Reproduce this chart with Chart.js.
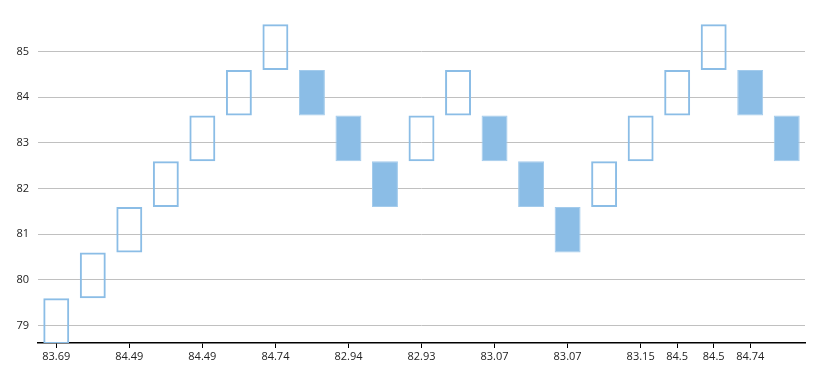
<!DOCTYPE html>
<html>
<head>
<meta charset="utf-8">
<script src="https://cdn.jsdelivr.net/npm/chart.js@4/dist/chart.umd.min.js"></script>
<style>
  html, body { margin: 0; padding: 0; background: #fff; }
  #wrap { width: 828px; height: 374px; position: relative; }
</style>
</head>
<body>
<div id="wrap"><canvas id="chart"></canvas></div>
<script>
// renko bricks: open / close of each brick
const brickOpen  = [78.6, 79.6, 80.6, 81.6, 82.6, 83.6, 84.6, 84.6, 83.6, 82.6, 82.6, 83.6, 83.6, 82.6, 81.6, 81.6, 82.6, 83.6, 84.6, 84.6, 83.6];
const brickClose = [79.6, 80.6, 81.6, 82.6, 83.6, 84.6, 85.6, 83.6, 82.6, 81.6, 83.6, 84.6, 82.6, 81.6, 80.6, 82.6, 83.6, 84.6, 85.6, 83.6, 82.6];
// labels under the axis (blank where no label is shown)
const xLabels = ['83.69', '', '84.49', '', '84.49', '', '84.74', '', '82.94', '', '82.93', '', '83.07', '', '83.07', '', '83.15', '84.5', '84.5', '84.74', ''];
const yTicks = [79, 80, 81, 82, 83, 84, 85];

const blue = '#8bbde6';
const isUp = brickOpen.map((o, i) => brickClose[i] > o);

const ctx = document.getElementById('chart').getContext('2d');
new Chart(ctx, {
  type: 'bar',
  data: {
    labels: xLabels,
    datasets: [{
      data: brickOpen.map((o, i) => [o, brickClose[i]]),
      backgroundColor: isUp.map(u => u ? 'rgba(255,255,255,0)' : blue),
      borderColor: isUp.map(u => u ? blue : '#a3cbec'),
      borderWidth: isUp.map(u => u ? 2 : 1),
      borderSkipped: false,
      categoryPercentage: 1,
      barPercentage: 0.71
    }]
  },
  options: {
    responsive: true,
    maintainAspectRatio: false,
    animation: false,
    layout: { padding: { top: 0, right: 23, left: 0, bottom: 0 } },
    plugins: {
      legend: { display: false },
      tooltip: { enabled: false }
    },
    scales: {
      x: {
        offset: true,
        grid: {
          offset: false,
          drawOnChartArea: false,
          tickLength: 5,
          tickColor: (c) => xLabels[c.index] ? '#000' : 'rgba(0,0,0,0)'
        },
        border: { color: '#000', width: 1.5 },
        ticks: {
          autoSkip: false,
          maxRotation: 0,
          padding: 2,
          color: '#222',
          font: { family: 'Open Sans', size: 11 }
        },
        afterFit: (s) => { s.height = 31; }
      },
      y: {
        min: 78.62,
        max: 85.79,
        afterBuildTicks: (s) => { s.ticks = yTicks.map(v => ({ value: v })); },
        grid: { color: '#c0c0c0', drawTicks: false },
        border: { display: false },
        ticks: {
          padding: 9,
          color: '#222',
          font: { family: 'Open Sans', size: 11 }
        },
        afterFit: (s) => { s.width = 38; }
      }
    }
  }
});
</script>
</body>
</html>
